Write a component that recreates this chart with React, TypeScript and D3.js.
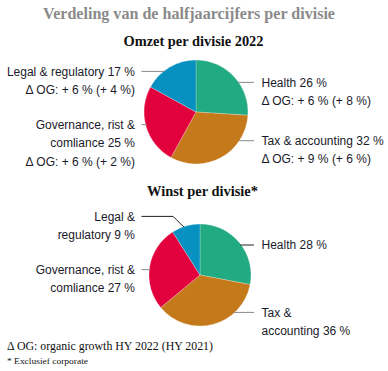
import React from "react";
import * as d3 from "d3";

// ---- data ----
const divisions = ["Health", "Tax & accounting", "Governance, rist & compliance", "Legal & regulatory"];
const sliceColors = ["#22ab82", "#c47a1a", "#e2003d", "#0791c0"];
const omzetShares = [26, 32, 25, 17];
const winstShares = [28, 36, 27, 9];
const omzetLabels = [
  ["Health 26 %", "Δ OG: + 6 % (+ 8 %)"],
  ["Tax & accounting 32 %", "Δ OG: + 9 % (+ 6 %)"],
  ["Governance, rist &", "comliance 25 %", "Δ OG: + 6 % (+ 2 %)"],
  ["Legal & regulatory 17 %", "Δ OG: + 6 % (+ 4 %)"],
];
const winstLabels = [
  ["Health 28 %"],
  ["Tax &", "accounting 36 %"],
  ["Governance, rist &", "comliance 27 %"],
  ["Legal &", "regulatory 9 %"],
];
const titleText = "Verdeling van de halfjaarcijfers per divisie";
const omzetTitle = "Omzet per divisie 2022";
const winstTitle = "Winst per divisie*";
const footnote1 = "Δ OG: organic growth HY 2022 (HY 2021)";
const footnote2 = "* Exclusief corporate";

// ---- layout ----
const W = 388;
const H = 371;
const SANS = "'Liberation Sans', Arial, sans-serif";
const SERIF = "'Liberation Serif', 'DejaVu Serif', serif";
const LINE_H = 18.3;
const LEFT_TEXT_X = 135;
const LEFT_LINE_X = 141.5;
const RIGHT_TEXT_X = 261.5;
const RIGHT_LINE_X = 254;

type PieSpec = {
  cx: number;
  cy: number;
  r: number;
  values: number[];
  labels: string[][];
  labelY: number[];
  lineColors: string[];
  elbow: boolean[];
};

const pies: PieSpec[] = [
  {
    cx: 196,
    cy: 112,
    r: 52,
    values: omzetShares,
    labels: omzetLabels,
    labelY: [86.7, 145, 129, 75.7],
    lineColors: ["#888", "#888", "#888", "#888"],
    elbow: [false, false, false, false],
  },
  {
    cx: 200,
    cy: 275,
    r: 51,
    values: winstShares,
    labels: winstLabels,
    labelY: [249.3, 316.7, 274, 220.7],
    lineColors: ["#222", "#888", "#888", "#222"],
    elbow: [false, false, false, true],
  },
];

function PieChart({ spec }: { spec: PieSpec }) {
  const pie = d3.pie<number>().sort(null).value((d) => d);
  const arcs = pie(spec.values);
  const arc = d3.arc<d3.PieArcDatum<number>>().innerRadius(0).outerRadius(spec.r);
  return (
    <g>
      <g transform={`translate(${spec.cx},${spec.cy})`}>
        {arcs.map((a, i) => (
          <path key={divisions[i]} d={arc(a) || ""} fill={sliceColors[i]} stroke="#ffffff" strokeWidth={0.4} strokeOpacity={0.6} />
        ))}
      </g>
      {arcs.map((a, i) => {
        const right = i < 2;
        const baseY = spec.labelY[i];
        const lineY = baseY - 4.3;
        const dy = lineY - spec.cy;
        let path: string;
        if (spec.elbow[i]) {
          const mid = (a.startAngle + a.endAngle) / 2;
          const tx = spec.cx + spec.r * Math.sin(mid);
          const ty = spec.cy - spec.r * Math.cos(mid);
          const ex = tx - (ty - lineY) - 3;
          path = `M${LEFT_LINE_X},${lineY}L${ex},${lineY}L${tx - 2},${ty + 1}`;
        } else {
          const dx = Math.sqrt(Math.max(0, spec.r * spec.r - dy * dy));
          const edgeX = right ? spec.cx + dx : spec.cx - dx;
          path = right
            ? `M${edgeX - 1},${lineY}L${RIGHT_LINE_X},${lineY}`
            : `M${LEFT_LINE_X},${lineY}L${edgeX + 1},${lineY}`;
        }
        return (
          <g key={"lbl" + i}>
            <path d={path} fill="none" stroke={spec.lineColors[i]} strokeWidth={1} />
            <text
              x={right ? RIGHT_TEXT_X : LEFT_TEXT_X}
              y={baseY}
              textAnchor={right ? "start" : "end"}
              fontFamily={SANS}
              fontSize={12}
              fill="#1a1a2a"
            >
              {spec.labels[i].map((t, k) => (
                <tspan key={k} x={right ? RIGHT_TEXT_X : LEFT_TEXT_X} y={baseY + k * LINE_H}>
                  {t}
                </tspan>
              ))}
            </text>
          </g>
        );
      })}
    </g>
  );
}

export default function App() {
  return (
    <svg width={W} height={H} style={{ position: "absolute", left: 0, top: 0, background: "#fff" }}>
      <text x={43} y={19} fontFamily={SERIF} fontWeight="bold" fontSize={16.5} fill="#8a8a8a" textLength={292} lengthAdjust="spacingAndGlyphs">
        {titleText}
      </text>
      <text x={123.5} y={46} fontFamily={SERIF} fontWeight="bold" fontSize={15.5} fill="#111" textLength={140} lengthAdjust="spacingAndGlyphs">
        {omzetTitle}
      </text>
      <text x={147} y={195.5} fontFamily={SERIF} fontWeight="bold" fontSize={15.5} fill="#111" textLength={111} lengthAdjust="spacingAndGlyphs">
        {winstTitle}
      </text>
      {pies.map((p, i) => (
        <PieChart key={i} spec={p} />
      ))}
      <text x={7} y={350} fontFamily={SERIF} fontSize={12} fill="#111" textLength={206} lengthAdjust="spacingAndGlyphs">
        {footnote1}
      </text>
      <text x={7} y={364} fontFamily={SERIF} fontSize={9} fill="#111" textLength={81} lengthAdjust="spacingAndGlyphs">
        {footnote2}
      </text>
    </svg>
  );
}
